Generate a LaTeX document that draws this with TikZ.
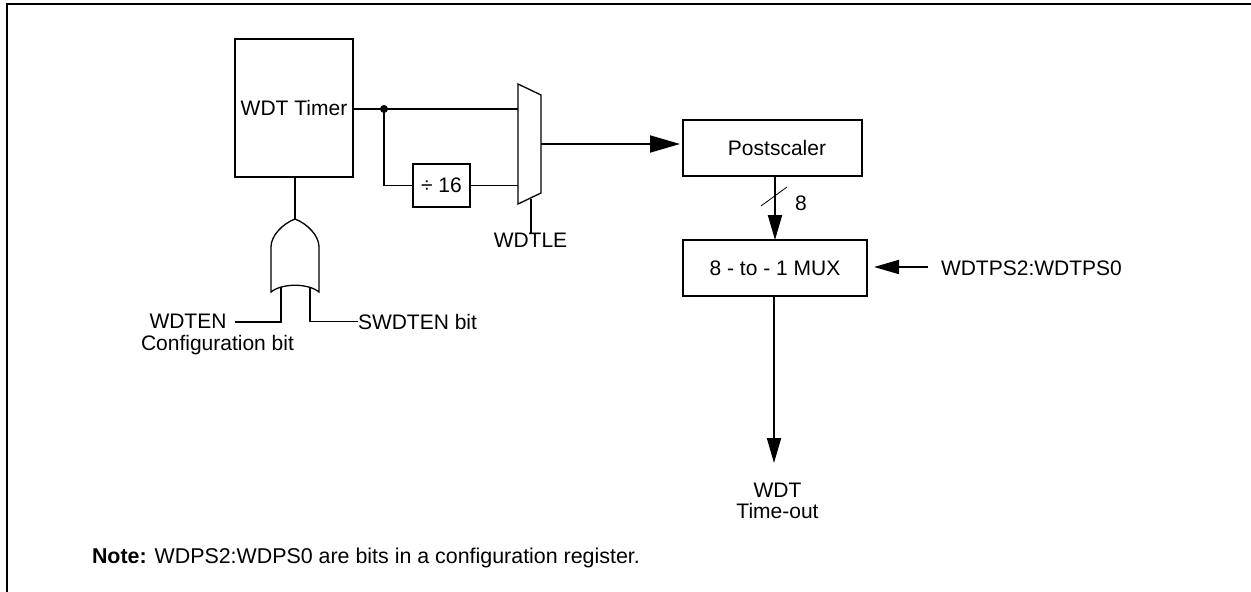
\documentclass[tikz,border=0pt]{standalone}
\usepackage{fontspec}
\setmainfont{Liberation Sans}
\usepackage{tikz}
\usetikzlibrary{arrows.meta}
\tikzset{
  wire/.style    = {line width=1.9pt},
  outline/.style = {line width=1.3pt,line join=miter},
  bigarr/.style  = {-{Triangle[length=30pt,width=17pt]},line width=1.9pt},
  midarr/.style  = {-{Triangle[length=25pt,width=14pt]},line width=1.9pt},
  block/.style   = {draw,line width=1.9pt,inner sep=0pt,outer sep=0pt},
  lbl/.style     = {inner sep=0pt,outer sep=0pt,font=\fontsize{21}{21}\selectfont}
}
\begin{document}
\begin{tikzpicture}[x=1pt,y=-1pt]
  \useasboundingbox (0,0) rectangle (1251,592);
  % border, open at the bottom
  \draw[wire] (7,592) -- (7,4) -- (1251,4);
  % blocks
  \node[block,lbl,minimum width=118pt,minimum height=138pt] (timer) at (294,108) {WDT Timer};
  \node[block,lbl,minimum width=57pt,minimum height=43pt] (div) at (441.5,185.5) {÷ 16};
  \node[block,lbl,minimum width=179pt,minimum height=56pt] (post) at (772.5,148) {\hspace*{9pt}Postscaler};
  \node[block,lbl,minimum width=184pt,minimum height=56pt] (mux) at (775,268) {8 - to - 1 MUX};
  % 2 to 1 selector
  \coordinate (sela) at (518,84);
  \coordinate (selb) at (541,95);
  \coordinate (selc) at (541,193);
  \coordinate (seld) at (518,204);
  \draw[outline] (sela) -- (selb) -- (selc) -- (seld) -- cycle;
  \coordinate (selup) at (518,109);
  \coordinate (selout) at (541,144);
  \coordinate (selbot) at (531,198.5);
  \coordinate (postin) at (680,144);
  \coordinate (branch) at (384,109);
  \fill (branch) circle (4pt);
  \draw[wire] (timer.east |- branch) -- (selup);
  \draw[wire] (branch) |- (div.west);
  \draw[wire] (div.east) -- (div.east -| selup);
  \draw[bigarr] (selout) -- (postin);
  \node[lbl] (wdtle) at (530.5,240) {WDTLE};
  \draw[wire] (selbot) -- (selbot |- wdtle.north);
  % or gate
  \coordinate (orapex) at (295,219);
  \coordinate (orleft) at (271,292);
  \coordinate (orright) at (319,292);
  \draw[outline] (orleft) -- (271,247) .. controls (271,236) and (282,224) .. (orapex)
    .. controls (308,224) and (319,236) .. (319,247) -- (orright)
    .. controls (308,283) and (282,283) .. (orleft) -- cycle;
  \draw[wire] (timer.south -| orapex) -- (orapex);
  \coordinate (orina) at (281,287);
  \coordinate (orinb) at (310,286.5);
  \node[lbl,anchor=base] (wdten) at (188,328) {WDTEN};
  \node[lbl,anchor=base] (cfgbit) at (217.5,350) {Configuration bit};
  \node[lbl,anchor=base west] (swdten) at (358,329) {SWDTEN bit};
  \coordinate (wdtenend) at (235,322);
  \draw[wire] (orina) |- (wdtenend);
  \draw[wire] (orinb) |- (swdten.west);
  % 8 bit bus
  \draw[midarr] (post.south -| mux.north) -- (mux.north);
  \coordinate (slasha) at (761,206);
  \coordinate (slashb) at (787,187);
  \draw[line width=0.8pt] (slasha) -- (slashb);
  \node[lbl] (eight) at (801,203) {8};
  % select lines and output
  \node[lbl,anchor=west] (wdtps) at (941,268) {WDTPS2:WDTPS0};
  \coordinate (wdtpsend) at (928,267);
  \coordinate (muxin) at (874,267);
  \draw[midarr] (wdtpsend) -- (muxin);
  \node[lbl,align=center] (timeout) at (777.5,501) {WDT\\Time-out};
  \coordinate (outtip) at (774,463);
  \draw[midarr] (mux.south -| outtip) -- (outtip);
  % note
  \node[lbl,anchor=base west,font=\fontsize{21.4}{23}\selectfont] (note) at (92,563) {\textbf{Note:} WDPS2:WDPS0 are bits in a configuration register.};
\end{tikzpicture}
\end{document}
